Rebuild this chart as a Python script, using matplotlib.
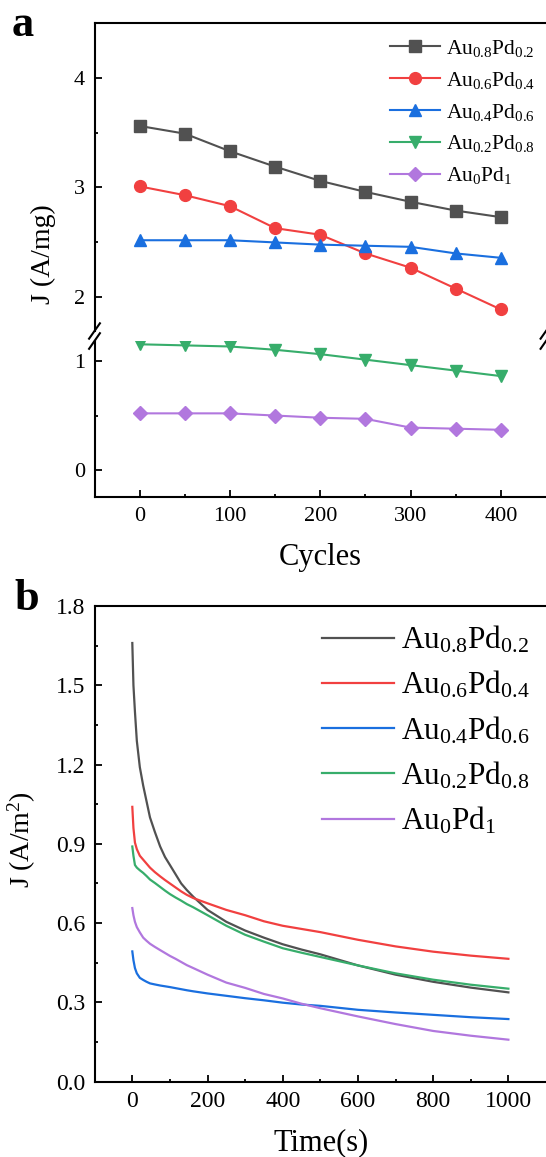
import matplotlib
matplotlib.use("Agg")
import matplotlib.pyplot as plt

plt.rcParams["font.family"] = ["Liberation Serif", "DejaVu Serif"]
plt.rcParams["mathtext.default"] = "regular"

# panel a: current density vs cycles
cycles = [0, 50, 100, 150, 200, 250, 300, 350, 400]
labels = ["Au$_{0.8}$Pd$_{0.2}$", "Au$_{0.6}$Pd$_{0.4}$", "Au$_{0.4}$Pd$_{0.6}$",
          "Au$_{0.2}$Pd$_{0.8}$", "Au$_{0}$Pd$_{1}$"]
j_au08 = [3.56, 3.49, 3.33, 3.19, 3.06, 2.96, 2.87, 2.79, 2.73]
j_au06 = [3.01, 2.93, 2.83, 2.63, 2.57, 2.40, 2.27, 2.08, 1.89]
j_au04 = [2.52, 2.52, 2.52, 2.50, 2.48, 2.47, 2.46, 2.40, 2.36]
j_au02 = [1.15, 1.14, 1.13, 1.10, 1.06, 1.01, 0.96, 0.91, 0.86]
j_au00 = [0.52, 0.52, 0.52, 0.50, 0.48, 0.47, 0.39, 0.38, 0.37]

# panel b: chronoamperometry
time_s = [0, 3, 7, 12, 20, 29, 38, 47, 60, 74, 87, 100, 115, 130, 145, 162, 200,
          250, 300, 350, 400, 450, 500, 600, 700, 800, 900, 1000]
ca_au08 = [1.66, 1.50, 1.40, 1.29, 1.19, 1.12, 1.06, 1.00, 0.945, 0.89, 0.85, 0.82,
           0.785, 0.75, 0.725, 0.70, 0.65, 0.605, 0.572, 0.545, 0.52, 0.50, 0.482,
           0.44, 0.405, 0.378, 0.356, 0.338]
ca_au06 = [1.04, 0.96, 0.905, 0.88, 0.855, 0.84, 0.825, 0.81, 0.793, 0.777, 0.763, 0.75,
           0.735, 0.72, 0.707, 0.695, 0.675, 0.65, 0.63, 0.607, 0.59, 0.578, 0.566,
           0.537, 0.512, 0.492, 0.477, 0.465]
ca_au04 = [0.493, 0.46, 0.43, 0.41, 0.393, 0.385, 0.378, 0.372, 0.368, 0.364, 0.361, 0.358,
           0.354, 0.35, 0.346, 0.342, 0.334, 0.325, 0.316, 0.308, 0.299, 0.292, 0.287,
           0.272, 0.262, 0.253, 0.244, 0.237]
ca_au02 = [0.89, 0.855, 0.82, 0.81, 0.80, 0.79, 0.778, 0.765, 0.752, 0.737, 0.723, 0.71,
           0.697, 0.685, 0.672, 0.66, 0.63, 0.59, 0.556, 0.53, 0.505, 0.488, 0.472,
           0.44, 0.41, 0.386, 0.367, 0.352]
ca_au00 = [0.657, 0.63, 0.605, 0.585, 0.565, 0.545, 0.533, 0.522, 0.51, 0.498, 0.487, 0.476,
           0.465, 0.453, 0.441, 0.43, 0.405, 0.375, 0.355, 0.332, 0.315, 0.295, 0.278,
           0.247, 0.218, 0.192, 0.174, 0.159]

colors = ["#515151", "#F14040", "#1A6FDF", "#37AD6B", "#B177DE"]
markers = ["s", "o", "^", "v", "D"]
msizes = [8, 8.5, 9, 9, 7.5]

W, H = 546, 1157
fig = plt.figure(figsize=(W / 100, H / 100), dpi=100)


def box(x0, y0, x1, y1):
    # pixel box (top-left origin) -> figure fraction rect
    return [x0 / W, 1 - y1 / H, (x1 - x0) / W, (y1 - y0) / H]


def style(ax, size):
    for s in ax.spines.values():
        s.set_linewidth(1.5)
    ax.spines["right"].set_visible(False)
    ax.tick_params(which="both", direction="in", width=1.3, labelsize=size)
    ax.tick_params(which="major", length=5, pad=7)
    ax.tick_params(which="minor", length=2.5)


# ---- panel a (broken y axis)
ax_top = fig.add_axes(box(94.5, 23, 546, 331))
ax_bot = fig.add_axes(box(94.5, 341, 546, 497))

series_a = [j_au08, j_au06, j_au04, j_au02, j_au00]
for ax in (ax_top, ax_bot):
    for ys, c, m, ms, lab in zip(series_a, colors, markers, msizes, labels):
        ax.plot(cycles, ys, color=c, marker=m, ms=ms, lw=1.5, label=lab)
    ax.set_xlim(-50, 450)
    ax.set_xticks([0, 100, 200, 300, 400])
    ax.set_xticks([50, 150, 250, 350], minor=True)
    style(ax, 16)

ax_top.set_ylim(1.694, 4.497)
ax_top.set_yticks([2, 3, 4])
ax_top.set_yticks([2.5, 3.5], minor=True)
ax_top.spines["bottom"].set_visible(False)
ax_top.tick_params(axis="x", which="both", bottom=False, labelbottom=False)

ax_bot.set_ylim(-0.243, 1.18)
ax_bot.set_yticks([0, 1])
ax_bot.set_yticks([0.5], minor=True)
ax_bot.spines["top"].set_visible(False)

# break marks
for ax, yb in ((ax_top, 0), (ax_bot, 1)):
    for xb in (0, 1):
        dy = 0.025 if yb == 0 else 0.05
        ax.plot([xb - 0.012, xb + 0.012], [yb - dy, yb + dy],
                transform=ax.transAxes, color="black", lw=1.5, clip_on=False)

ax_top.legend(frameon=False, fontsize=15.5, handlelength=2.3, handletextpad=0.3,
              labelspacing=0.5, borderpad=0, borderaxespad=0,
              loc="upper left", bbox_to_anchor=(390 / W, 1 - 38 / H),
              bbox_transform=fig.transFigure)

fig.text(43 / W, 1 - 254 / H, "J (A/mg)", rotation=90, ha="center", va="center", size=20)
fig.text(320 / W, 1 - 557 / H, "Cycles", ha="center", va="center", size=22)
fig.text(12 / W, 1 - 36 / H, "a", ha="left", va="baseline", size=32, weight="bold")

# ---- panel b
axb = fig.add_axes(box(94.7, 606, 546, 1081.7))
series_b = [ca_au08, ca_au06, ca_au04, ca_au02, ca_au00]
for ys, c, lab in zip(series_b, colors, labels):
    axb.plot(time_s, ys, color=c, lw=1.6, label=lab)
axb.set_xlim(-100, 1100)
axb.set_ylim(0, 1.8)
axb.set_xticks([0, 200, 400, 600, 800, 1000])
axb.set_xticks([100, 300, 500, 700, 900], minor=True)
axb.set_yticks([0.0, 0.3, 0.6, 0.9, 1.2, 1.5, 1.8])
axb.set_yticks([0.15, 0.45, 0.75, 1.05, 1.35, 1.65], minor=True)
axb.set_yticklabels(["0.0", "0.3", "0.6", "0.9", "1.2", "1.5", "1.8"])
style(axb, 17)

axb.legend(frameon=False, fontsize=22.5, handlelength=2.3, handletextpad=0.22,
           labelspacing=0.44, borderpad=0, borderaxespad=0,
           loc="upper left", bbox_to_anchor=(322 / W, 1 - 624 / H),
           bbox_transform=fig.transFigure)

fig.text(22 / W, 1 - 840 / H, "J (A/m$^2$)", rotation=90, ha="center", va="center", size=20)
fig.text(321 / W, 1 - 1143 / H, "Time(s)", ha="center", va="center", size=22)
fig.text(14 / W, 1 - 610 / H, "b", ha="left", va="baseline", size=32, weight="bold")

fig.savefig("out.png", dpi=100)
plt.close(fig)
